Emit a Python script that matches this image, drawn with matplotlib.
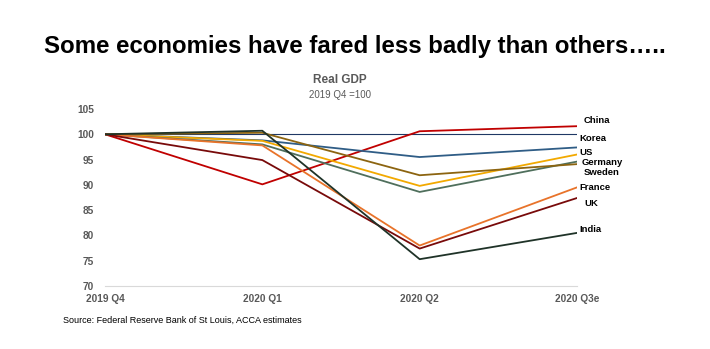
import matplotlib
matplotlib.use("Agg")
import matplotlib.pyplot as plt

plt.rcParams['font.family'] = ['Liberation Sans', 'DejaVu Sans']

quarters = ["2019 Q4", "2020 Q1", "2020 Q2", "2020 Q3e"]
baseline = [100, 100, 100, 100]
china   = [100, 90.1, 100.6, 101.6]
korea   = [100, 98.8, 95.5, 97.4]
us      = [100, 98.7, 89.8, 96.0]
germany = [100, 98.0, 88.6, 94.6]
sweden  = [100, 100.3, 91.9, 94.1]
france  = [100, 97.8, 78.0, 89.5]
uk      = [100, 94.9, 77.4, 87.4]
india   = [100, 100.7, 75.3, 80.5]

series = [
    ("China", china, "#C00000"),
    ("Korea", korea, "#2F5D86"),
    ("US", us, "#F2A900"),
    ("Germany", germany, "#4F6F5C"),
    ("Sweden", sweden, "#8C6410"),
    ("France", france, "#E8732A"),
    ("UK", uk, "#780A0A"),
    ("India", india, "#1F3328"),
]
label_y = {"China": 102.8, "Korea": 99.2, "US": 96.3, "Germany": 94.5,
           "Sweden": 92.5, "France": 89.4, "UK": 86.4, "India": 81.1}
label_dx = {"China": 5, "Korea": 2, "US": 2, "Germany": 3,
            "Sweden": 5, "France": 2, "UK": 5, "India": 2}

fig = plt.figure(figsize=(7.1, 3.49), dpi=100)
ax = fig.add_axes([105/710, 1-286/349, 472/710, 177/349])

x = list(range(len(quarters)))
ax.plot(x, baseline, color="#1F3864", lw=0.8, zorder=1)
for name, vals, col in series:
    ax.plot(x, vals, color=col, lw=1.3, zorder=2)
    ax.annotate(name, xy=(x[-1], label_y[name]), xytext=(label_dx[name], 0),
                textcoords="offset points", ha="left", va="center",
                fontsize=6.8, fontweight="bold", color="black",
                annotation_clip=False)

ax.set_xlim(0, 3)
ax.set_ylim(70, 105)
ax.set_yticks([70, 75, 80, 85, 90, 95, 100, 105])
ax.set_xticks(x)
ax.set_xticklabels(quarters)
for s in ["top", "right", "left"]:
    ax.spines[s].set_visible(False)
ax.spines["bottom"].set_color("#D9D9D9")
ax.spines["bottom"].set_linewidth(0.8)
ax.tick_params(axis="both", length=0, labelsize=7.3, labelcolor="#595959")
ax.tick_params(axis="y", pad=8)
ax.tick_params(axis="x", pad=6)
for lab in ax.get_xticklabels() + ax.get_yticklabels():
    lab.set_fontweight("bold")

fig.text(0.5, 1-47/349, "Some economies have fared less badly than others…..",
         ha="center", va="center", fontsize=17.3, fontweight="bold", color="black")
fig.text(340/710, 1-80/349, "Real GDP", ha="center", va="center",
         fontsize=8.5, fontweight="bold", color="#595959")
fig.text(340/710, 1-95/349, "2019 Q4 =100", ha="center", va="center",
         fontsize=7, color="#595959")
fig.text(63/710, 1-320/349, "Source: Federal Reserve Bank of St Louis, ACCA estimates",
         ha="left", va="center", fontsize=6.5, color="black")

fig.savefig("out.png", dpi=100)
